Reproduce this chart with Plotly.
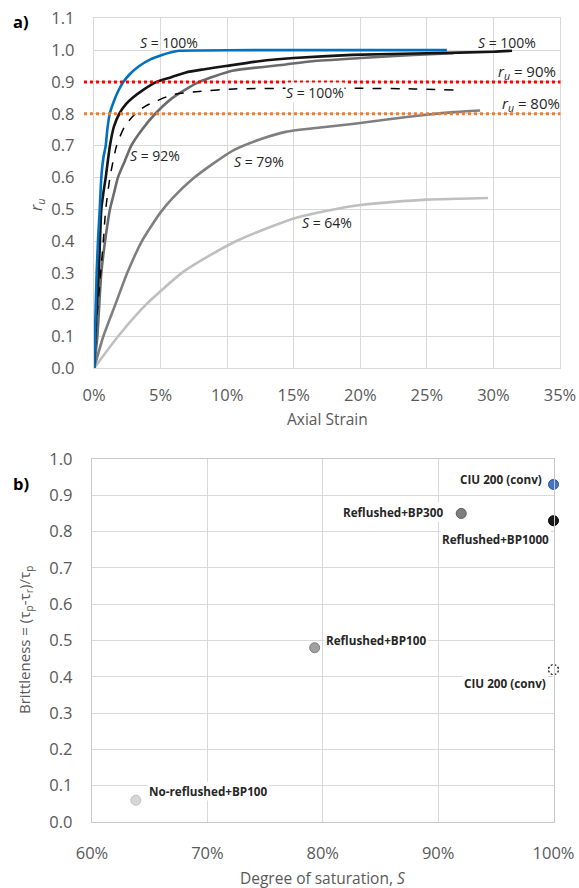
import plotly.graph_objects as go

# ---------------- Panel a) data: axial strain (%) vs r_u ----------------
strain_blue = [0, 0.1, 0.2, 0.3, 0.43, 0.55, 0.7, 0.88, 1.0, 1.18, 1.5, 1.8, 2.2, 2.7, 3.4, 4.2, 5.0, 5.8, 6.4, 8, 12, 16, 20, 24, 26.5]
ru_blue = [0, 0.15, 0.3, 0.4, 0.5, 0.6, 0.66, 0.7, 0.75, 0.8, 0.84, 0.87, 0.9, 0.925, 0.95, 0.97, 0.983, 0.993, 0.998, 0.999, 1.0, 1.0, 1.0, 1.0, 1.0]

strain_black = [0, 0.15, 0.36, 0.55, 0.7, 0.88, 1.2, 1.5, 1.9, 2.4, 2.9, 3.7, 4.7, 5.8, 6.9, 8.3, 9.9, 12.4, 15, 19.4, 25, 30, 31.4]
ru_black = [0, 0.15, 0.3, 0.5, 0.55, 0.6, 0.7, 0.76, 0.8, 0.83, 0.85, 0.875, 0.9, 0.915, 0.93, 0.94, 0.95, 0.965, 0.975, 0.985, 0.99, 0.995, 0.998]

strain_dash = [0, 0.2, 0.5, 0.7, 0.88, 1.2, 1.7, 2.3, 3.1, 3.9, 4.7, 5.9, 7.9, 10.5, 15, 20, 24, 27]
ru_dash = [0, 0.15, 0.3, 0.4, 0.5, 0.6, 0.7, 0.76, 0.8, 0.825, 0.84, 0.86, 0.87, 0.878, 0.88, 0.88, 0.878, 0.875]

strain_s92 = [0, 0.25, 0.55, 0.9, 1.2, 1.5, 1.8, 2.3, 2.8, 3.6, 4.6, 5.9, 7.9, 10.4, 14.4, 16.4, 20, 24, 27]
ru_s92 = [0, 0.1, 0.3, 0.42, 0.5, 0.55, 0.6, 0.65, 0.7, 0.75, 0.8, 0.85, 0.9, 0.935, 0.955, 0.965, 0.975, 0.985, 0.99]

strain_s79 = [0, 0.7, 1.6, 2.5, 3.6, 5.0, 5.9, 7.4, 9.0, 10.5, 12.5, 14.4, 17, 19.4, 22, 25, 27, 29]
ru_s79 = [0, 0.1, 0.2, 0.3, 0.4, 0.49, 0.535, 0.595, 0.645, 0.686, 0.72, 0.743, 0.757, 0.768, 0.782, 0.797, 0.805, 0.81]

strain_s64 = [0, 1.8, 3.9, 6.6, 8.5, 10.7, 13, 15.2, 17.5, 20, 22.5, 25, 27.5, 29.6]
ru_s64 = [0, 0.1, 0.2, 0.3, 0.35, 0.4, 0.44, 0.473, 0.495, 0.513, 0.523, 0.53, 0.533, 0.535]

ru_levels = [0.9, 0.8]
ru_level_colors = ["#FF0000", "#ED7D31"]

# ---------------- Panel b) data: saturation (%) vs brittleness ----------------
b_labels = ["CIU 200 (conv)", "Reflushed+BP300", "Reflushed+BP1000", "Reflushed+BP100", "CIU 200 (conv)", "No-reflushed+BP100"]
b_sat = [100, 92, 100, 79.3, 100, 63.8]
b_brit = [0.93, 0.85, 0.83, 0.48, 0.42, 0.06]
b_fill = ["#4472C4", "#7F7F7F", "#1A1A1A", "#A0A0A0", "rgba(0,0,0,0)", "#D6D6D6"]
b_edge = ["#2F5597", "#595959", "#000000", "#7F7F7F", "rgba(0,0,0,0)", "#BFBFBF"]
b_dashed = [False, False, False, False, True, False]

FONT = "Open Sans"
TICKC = "#595959"
GRID = "#D9D9D9"

fig = go.Figure()

curves = [
    (strain_s64, ru_s64, "#BFBFBF", "solid"),
    (strain_s79, ru_s79, "#7F7F7F", "solid"),
    (strain_s92, ru_s92, "#6B6B6B", "solid"),
    (strain_dash, ru_dash, "#000000", "dash"),
    (strain_black, ru_black, "#141414", "solid"),
    (strain_blue, ru_blue, "#0070C0", "solid"),
]
for xs, ys, col, dash in curves:
    w = 1.5 if dash == "dash" else 2.6
    fig.add_trace(go.Scatter(x=xs, y=ys, mode="lines",
                             line=dict(color=col, width=w, dash=dash, shape="spline", smoothing=0.6),
                             xaxis="x", yaxis="y", showlegend=False, hoverinfo="skip"))

# reference ru lines
for lvl, col in zip(ru_levels, ru_level_colors):
    fig.add_shape(type="line", xref="paper", yref="y", x0=0.145, x1=0.968, y0=lvl, y1=lvl,
                  line=dict(color=col, width=3, dash="dot"), layer="above")

# panel b markers
fig.add_trace(go.Scatter(x=b_sat, y=b_brit, mode="markers", xaxis="x2", yaxis="y2",
                         marker=dict(size=10, color=b_fill, line=dict(color=b_edge, width=1)),
                         cliponaxis=False, showlegend=False, hoverinfo="skip"))
# dashed open circle: black ring broken by white spokes
dx = [s for s, d in zip(b_sat, b_dashed) if d]
dy = [b for b, d in zip(b_brit, b_dashed) if d]
fig.add_trace(go.Scatter(x=dx, y=dy, mode="markers", xaxis="x2", yaxis="y2",
                         marker=dict(size=10, symbol="circle-open", color="#000000", line=dict(width=1.2)),
                         cliponaxis=False, showlegend=False, hoverinfo="skip"))
fig.add_trace(go.Scatter(x=dx, y=dy, mode="markers", xaxis="x2", yaxis="y2",
                         marker=dict(size=16, symbol="asterisk-open", color="white", line=dict(width=1.8, color="white")),
                         cliponaxis=False, showlegend=False, hoverinfo="skip"))

ann = []
lab_font = dict(family=FONT, size=14, color="#262626")
curve_labels = [
    (5.6, 1.024, "<i>S</i> = 100%", None),
    (31.0, 1.024, "<i>S</i> = 100%", None),
    (16.6, 0.866, "<i>S</i> = 100%", "white"),
    (4.6, 0.67, "<i>S</i> = 92%", None),
    (12.4, 0.649, "<i>S</i> = 79%", None),
    (17.5, 0.457, "<i>S</i> = 64%", None),
]
for x, y, t, bg in curve_labels:
    a = dict(x=x, y=y, xref="x", yref="y", text=t, showarrow=False, font=lab_font)
    if bg:
        a["bgcolor"] = bg
        a["borderpad"] = 0
    ann.append(a)
ann.append(dict(x=32.5, y=0.932, xref="x", yref="y", text="<i>r<sub>u</sub></i> = 90%", showarrow=False,
                font=dict(family=FONT, size=15, color="#262626")))
ann.append(dict(x=32.8, y=0.831, xref="x", yref="y", text="<i>r<sub>u</sub></i> = 80%", showarrow=False,
                font=dict(family=FONT, size=15, color="#262626")))

# panel b point labels
b_lab_pos = [
    ("right", -10, 5),
    ("right", -16, 1),
    ("right", -3, -18),
    ("left", 9, 8),
    ("right", -6, -13),
    ("left", 11, 9),
]
bfont = dict(family=FONT, size=11.7, color="#262626")
for (xa, xs, ys), lab, sx, sy in zip(b_lab_pos, b_labels, b_sat, b_brit):
    ann.append(dict(x=sx, y=sy, xref="x2", yref="y2", text="<b>" + lab + "</b>", showarrow=False,
                    xanchor=xa, yanchor="middle", xshift=xs, yshift=ys, font=bfont,
                    bgcolor="white", borderpad=1))

# panel letters and axis titles
def paper_text(px, py, text, size, color, angle=0, anchor="center"):
    return dict(x=px / 579, y=1 - py / 888, xref="paper", yref="paper", text=text, showarrow=False,
                xanchor=anchor, yanchor="middle", textangle=angle,
                font=dict(family=FONT, size=size, color=color))

ann.append(paper_text(11, 21, "<b>a)</b>", 16.5, "#000000", anchor="left"))
ann.append(paper_text(11, 483, "<b>b)</b>", 16.5, "#000000", anchor="left"))
ann.append(paper_text(327, 419, "Axial Strain", 15.5, TICKC))
ann.append(paper_text(36, 205, "<i>r<sub>u</sub></i>", 16, TICKC, angle=-90))
ann.append(paper_text(323, 878, "Degree of saturation, <i>S</i>", 15.5, TICKC))
ann.append(paper_text(25, 640, "Brittleness = (τ<sub>p</sub>-τ<sub>r</sub>)/τ<sub>p</sub>", 15, TICKC, angle=-90))

tickfont = dict(family=FONT, size=16.5, color=TICKC)
common = dict(showgrid=True, gridcolor=GRID, gridwidth=1.3, zeroline=False, showline=True,
              linewidth=1.3, mirror=True, tickfont=tickfont, automargin=False, ticks="")
fig.update_layout(
    width=579, height=888, margin=dict(l=0, r=0, t=0, b=0, autoexpand=False),
    paper_bgcolor="white", plot_bgcolor="white", showlegend=False,
    xaxis=dict(domain=[94 / 579, 560 / 579], anchor="y", range=[0, 35], dtick=5, ticksuffix="%",
               linecolor=GRID, ticklabelstandoff=12, **common),
    yaxis=dict(domain=[1 - 368.3 / 888, 1 - 18.3 / 888], anchor="x", range=[0, 1.1], dtick=0.1,
               tickformat=".1f", linecolor=GRID, ticklabelstandoff=15, **common),
    xaxis2=dict(domain=[92 / 579, 553.5 / 579], anchor="y2", range=[60, 100], dtick=10, ticksuffix="%",
                linecolor="#C8C8C8", ticklabelstandoff=16, **common),
    yaxis2=dict(domain=[1 - 822 / 888, 1 - 459 / 888], anchor="x2", range=[0, 1.0], dtick=0.1,
                tickformat=".1f", linecolor="#C8C8C8", ticklabelstandoff=15, **common),
    annotations=ann,
)

fig.write_html("out.html")
